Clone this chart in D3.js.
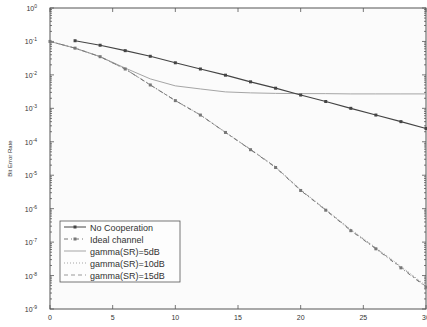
<!DOCTYPE html>
<html>
<head>
<meta charset="utf-8">
<title>BER vs SNR</title>
<script src="https://d3js.org/d3.v7.min.js"></script>
<style>
  body { margin: 0; background: #fff; }
  text { font-family: "Liberation Sans", Arial, sans-serif; fill: #333; }
</style>
</head>
<body>
<svg id="chart" width="427" height="327"></svg>
<script>
// SNR (dB) values
var snrNoCoop = [2, 4, 6, 8, 10, 12, 14, 16, 18, 20, 22, 24, 26, 28, 30];
var berNoCoop = [0.105, 0.077, 0.053, 0.036, 0.023, 0.015, 0.0098, 0.0062, 0.0040, 0.0025, 0.0016, 0.0010, 0.00063, 0.0004, 0.00025];

var snr = [0, 2, 4, 6, 8, 10, 12, 14, 16, 18, 20, 22, 24, 26, 28, 30];
var berIdeal = [0.1, 0.063, 0.035, 0.015, 5e-3, 1.7e-3, 6.3e-4, 1.9e-4, 5.8e-5, 1.7e-5, 3.5e-6, 9e-7, 2.2e-7, 6.3e-8, 1.7e-8, 4.5e-9];
var berG5 = [0.1, 0.063, 0.035, 0.016, 7.6e-3, 4.7e-3, 3.8e-3, 3.1e-3, 2.9e-3, 2.8e-3, 2.75e-3, 2.75e-3, 2.7e-3, 2.7e-3, 2.7e-3, 2.7e-3];
var berG10 = [0.1, 0.063, 0.035, 0.015, 5.1e-3, 1.75e-3, 6.4e-4, 1.95e-4, 6e-5, 1.8e-5, 3.7e-6, 9.5e-7, 2.4e-7, 6.8e-8, 1.9e-8, 5e-9];
var berG15 = [0.1, 0.063, 0.035, 0.015, 5e-3, 1.7e-3, 6.3e-4, 1.9e-4, 5.9e-5, 1.75e-5, 3.6e-6, 9.2e-7, 2.3e-7, 6.5e-8, 1.8e-8, 4.7e-9];

var xTicks = [0, 5, 10, 15, 20, 25, 30];
var yDecades = [1, 1e-1, 1e-2, 1e-3, 1e-4, 1e-5, 1e-6, 1e-7, 1e-8, 1e-9];
var legendNames = ["No Cooperation", "Ideal channel", "gamma(SR)=5dB", "gamma(SR)=10dB", "gamma(SR)=15dB"];

var svg = d3.select("#chart");
var pLeft = 50, pRight = 426, pTop = 8, pBottom = 309;

var x = d3.scaleLinear().domain([0, 30]).range([pLeft, pRight]);
var y = d3.scaleLog().domain([1e-9, 1]).range([pBottom, pTop]);

// plot frame
svg.append("rect")
  .attr("x", pLeft).attr("y", pTop)
  .attr("width", pRight - pLeft).attr("height", pBottom - pTop)
  .attr("fill", "#fbfbfb").attr("stroke", "#555").attr("stroke-width", 1);

// x ticks (bottom and top, inward)
var axisG = svg.append("g").attr("stroke", "#555").attr("stroke-width", 0.8);
xTicks.forEach(function(t) {
  axisG.append("line").attr("x1", x(t)).attr("x2", x(t)).attr("y1", pBottom).attr("y2", pBottom - 4);
  axisG.append("line").attr("x1", x(t)).attr("x2", x(t)).attr("y1", pTop).attr("y2", pTop + 4);
});
svg.selectAll(".xlab").data(xTicks).enter().append("text")
  .attr("x", function(d) { return x(d); })
  .attr("y", pBottom + 11)
  .attr("text-anchor", "middle")
  .attr("font-size", 7)
  .text(function(d) { return d; });

// y ticks (log, with minor)
y.ticks().forEach(function(t) {
  var isMajor = Math.abs(Math.log10(t) - Math.round(Math.log10(t))) < 1e-6;
  var len = isMajor ? 4 : 2;
  axisG.append("line").attr("x1", pLeft).attr("x2", pLeft + len).attr("y1", y(t)).attr("y2", y(t));
  axisG.append("line").attr("x1", pRight).attr("x2", pRight - len).attr("y1", y(t)).attr("y2", y(t));
});
var ylab = svg.selectAll(".ylab").data(yDecades).enter().append("text")
  .attr("x", 37)
  .attr("y", function(d) { return y(d) + 3; })
  .attr("text-anchor", "end")
  .attr("font-size", 7);
ylab.append("tspan").text("10");
ylab.append("tspan").attr("dy", -3).attr("font-size", 5)
  .text(function(d) { return Math.round(Math.log10(d)); });

// y axis title
svg.append("text")
  .attr("transform", "translate(12," + ((pTop + pBottom) / 2) + ") rotate(-90)")
  .attr("text-anchor", "middle")
  .attr("font-size", 6)
  .text("Bit Error Rate");

// lines
var line = d3.line()
  .x(function(d) { return x(d[0]); })
  .y(function(d) { return y(d[1]); });

var series = [
  { xs: snr, ys: berG5, stroke: "#a5a5a5", width: 1, dash: null, marker: false },
  { xs: snr, ys: berG10, stroke: "#a5a5a5", width: 1, dash: "1,2", marker: false },
  { xs: snr, ys: berG15, stroke: "#999", width: 1, dash: "4,3", marker: false },
  { xs: snr, ys: berIdeal, stroke: "#777", width: 1, dash: "4,3,1,3", marker: true },
  { xs: snrNoCoop, ys: berNoCoop, stroke: "#444", width: 1.2, dash: null, marker: true }
];

series.forEach(function(s) {
  var pts = s.xs.map(function(v, i) { return [v, s.ys[i]]; });
  svg.append("path")
    .attr("d", line(pts))
    .attr("fill", "none")
    .attr("stroke", s.stroke)
    .attr("stroke-width", s.width)
    .attr("stroke-dasharray", s.dash);
  if (s.marker) {
    svg.append("g").selectAll("rect").data(pts).enter().append("rect")
      .attr("x", function(d) { return x(d[0]) - 1.5; })
      .attr("y", function(d) { return y(d[1]) - 1.5; })
      .attr("width", 3).attr("height", 3)
      .attr("fill", s.stroke);
  }
});

// legend
var lg = svg.append("g");
lg.append("rect")
  .attr("x", 60).attr("y", 221).attr("width", 120).attr("height", 61)
  .attr("fill", "#fdfdfd").attr("stroke", "#555").attr("stroke-width", 0.8);
var legStyles = [
  { stroke: "#444", dash: null, marker: true },
  { stroke: "#777", dash: "4,3,1,3", marker: true },
  { stroke: "#a5a5a5", dash: null, marker: false },
  { stroke: "#a5a5a5", dash: "1,2", marker: false },
  { stroke: "#999", dash: "4,3", marker: false }
];
legendNames.forEach(function(name, i) {
  var ly = 227 + i * 12;
  var st = legStyles[i];
  lg.append("line")
    .attr("x1", 64).attr("x2", 86).attr("y1", ly).attr("y2", ly)
    .attr("stroke", st.stroke).attr("stroke-width", 1)
    .attr("stroke-dasharray", st.dash);
  if (st.marker) {
    lg.append("rect").attr("x", 73.5).attr("y", ly - 1.5).attr("width", 3).attr("height", 3).attr("fill", st.stroke);
  }
  lg.append("text")
    .attr("x", 90).attr("y", ly + 3.5)
    .attr("font-size", 9)
    .text(name);
});
</script>
</body>
</html>
